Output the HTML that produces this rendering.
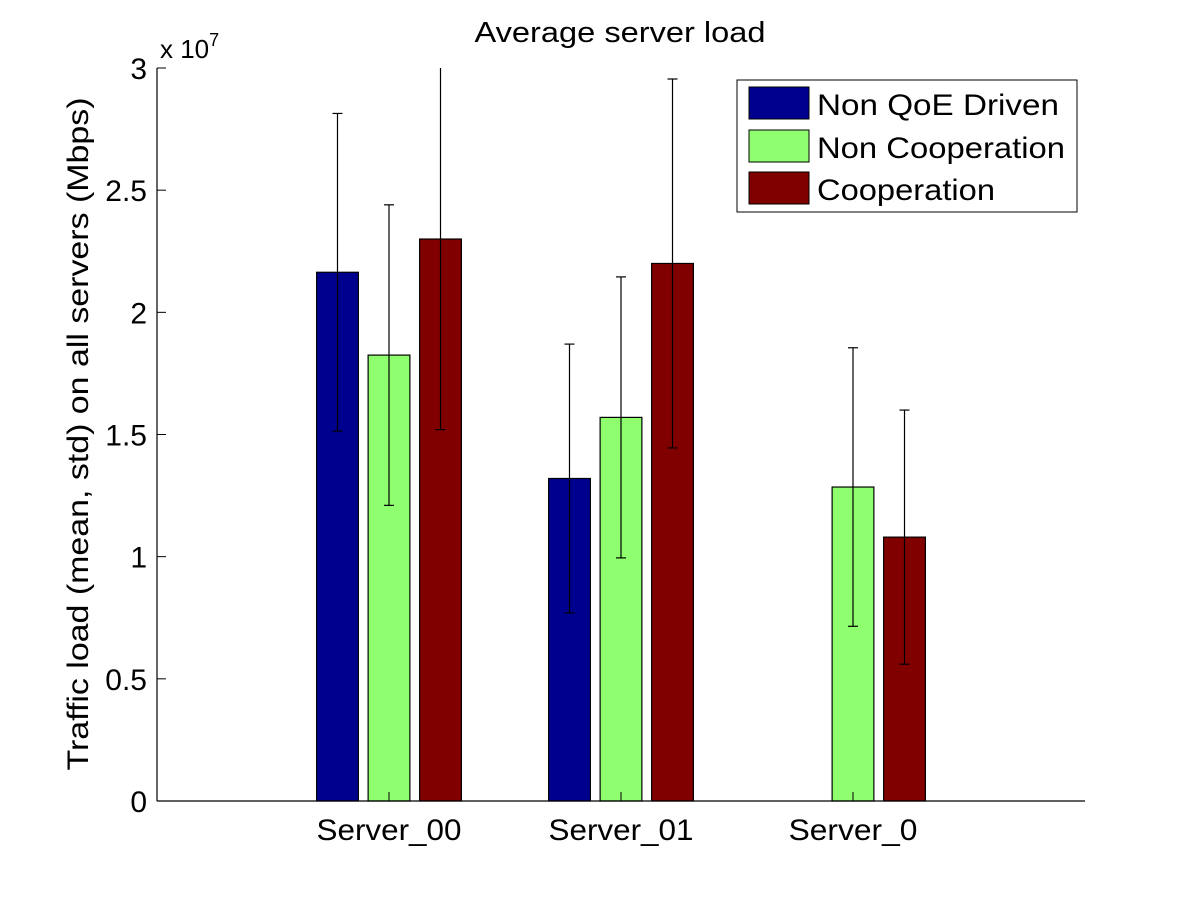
<!DOCTYPE html>
<html><head><meta charset="utf-8"><style>
body{margin:0;background:#fff;}
svg text{font-family:"Liberation Sans",Arial,sans-serif;fill:#000;}
</style></head><body>
<svg id="chart" width="1200" height="900" xmlns="http://www.w3.org/2000/svg">
<rect x="0" y="0" width="1200" height="900" fill="#fff"/>
<text x="620" y="42" font-size="29" text-anchor="middle" textLength="291" lengthAdjust="spacingAndGlyphs">Average server load</text>
<text transform="translate(88,434) rotate(-90)" font-size="30" text-anchor="middle" textLength="673" lengthAdjust="spacingAndGlyphs">Traffic load (mean, std) on all servers (Mbps)</text>
<g id="bars"></g><g id="axes"></g>
<g>
<rect x="737" y="80" width="340" height="132" fill="#fff" stroke="#000" stroke-width="1"/>
<g><rect x="749" y="87" width="60" height="32" fill="#00008f" stroke="#000"/><text x="817" y="115" font-size="30" textLength="242" lengthAdjust="spacingAndGlyphs">Non QoE Driven</text></g>
<g><rect x="749" y="130" width="60" height="32" fill="#8fff6f" stroke="#000"/><text x="817" y="158" font-size="30" textLength="248" lengthAdjust="spacingAndGlyphs">Non Cooperation</text></g>
<g><rect x="749" y="172" width="60" height="32" fill="#800000" stroke="#000"/><text x="817" y="200" font-size="30" textLength="178" lengthAdjust="spacingAndGlyphs">Cooperation</text></g>
</g>
</svg>
<script>
const categories=["Server_00","Server_01","Server_0"];
const seriesNames=["Non QoE Driven","Non Cooperation","Cooperation"];
const nonQoE=[2.164,1.32,0];
const nonCoop=[1.825,1.57,1.285];
const coop=[2.30,2.20,1.08];
const nonQoEStd=[0.65,0.55,0];
const nonCoopStd=[0.615,0.575,0.57];
const coopStd=[0.78,0.755,0.52];
const yTicks=[0,0.5,1,1.5,2,2.5,3];
const yTickLabels=["0","0.5","1","1.5","2","2.5","3"];

const NS="http://www.w3.org/2000/svg";
const X0=157,X1=1085,Y0=801,Y1=68;
const xs=v=>X0+(v/4)*(X1-X0);
const ys=v=>Y0-(v/3)*(Y0-Y1);
function mk(t,a,p){const e=document.createElementNS(NS,t);for(const k in a)e.setAttribute(k,a[k]);p.appendChild(e);return e;}
const bars=document.getElementById('bars'),axes=document.getElementById('axes');
const series=[nonQoE,nonCoop,coop],stds=[nonQoEStd,nonCoopStd,coopStd];
const colors=["#00008f","#8fff6f","#800000"];
const bw=0.18,off=0.222;
series.forEach((s,si)=>{s.forEach((v,i)=>{
 const c=i+1+(si-1)*off;
 const xa=xs(c-bw/2),xb=xs(c+bw/2);
 const r=mk('rect',{x:xa,y:ys(v),width:xb-xa,height:ys(0)-ys(v),fill:colors[si],stroke:'#000','stroke-width':1.2},bars);
 
 
 const sd=stds[si][i];
 if(sd>0){
  const cx=xs(c),top=Math.max(ys(v+sd),Y1),bot=ys(v-sd);
  const g=mk('g',{stroke:'#000','stroke-width':1.2},bars);
  
  
  mk('line',{x1:cx,x2:cx,y1:top,y2:bot},g);
  if(ys(v+sd)>=Y1)mk('line',{x1:cx-5,x2:cx+5,y1:top,y2:top},g);
  mk('line',{x1:cx-5,x2:cx+5,y1:bot,y2:bot},g);
 }
});});
const ax=mk('line',{x1:X0,x2:X1,y1:Y0,y2:Y0,stroke:'#000','stroke-width':1.2},axes);

const ay=mk('line',{x1:X0,x2:X0,y1:Y0,y2:Y1,stroke:'#000','stroke-width':1.2},axes);

yTicks.forEach((t,i)=>{
 mk('line',{x1:X0,x2:X0+9,y1:ys(t),y2:ys(t),stroke:'#000'},axes);
 const tx=mk('text',{x:X0-10,y:ys(t)+11,'font-size':30,'text-anchor':'end'},axes);
 tx.textContent=yTickLabels[i];
 
});
categories.forEach((c,i)=>{
 mk('line',{x1:xs(i+1),x2:xs(i+1),y1:Y0,y2:Y0-9,stroke:'#000'},axes);
 const tx=mk('text',{x:xs(i+1),y:840,'font-size':30,'text-anchor':'middle',textLength:c.length*16.1,lengthAdjust:'spacingAndGlyphs'},axes);
 tx.textContent=c;
 
});
const ex=mk('text',{x:160,y:58,'font-size':26},axes);
ex.innerHTML='x 10<tspan dy="-12" font-size="18">7</tspan>';

</script>
</body></html>
